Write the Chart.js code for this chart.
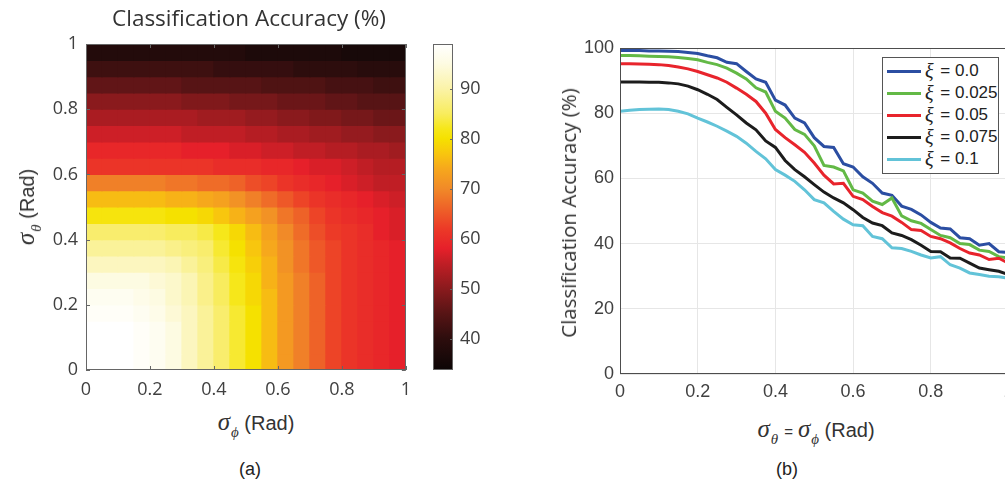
<!DOCTYPE html>
<html>
<head>
<meta charset="utf-8">
<script src="https://cdn.jsdelivr.net/npm/chart.js@4.4.0/dist/chart.umd.min.js"></script>
<style>
  body { margin: 0; background: #fff; width: 1005px; height: 484px; overflow: hidden; position: relative;
         font-family: "Liberation Sans", Arial, sans-serif; color: #333; }
  canvas { position: absolute; top: 0; }
  .lbl { position: absolute; white-space: nowrap; transform: translate(-50%, -50%); }
  .sig { font-family: "Liberation Serif", serif; font-style: italic; font-size: 25px; }
  .sub { font-family: "Liberation Serif", serif; font-style: italic; font-size: 15px; position: relative; top: 7px; margin-left: 1px; }
  #legend { position: absolute; left: 882px; top: 57px; width: 115px; height: 115px; border: 1px solid #555; background: #fff; }
  .row { position: absolute; left: 0; height: 22px; display: flex; align-items: center; font-size: 17px; color: #222; }
  .swatch { display: inline-block; width: 34px; height: 3px; margin: 0 4px 0 4px; }
  .xi { font-family: "Liberation Serif", serif; font-style: italic; font-size: 20px; margin-right: 2px; }
</style>
</head>
<body>
<canvas id="heat" width="420" height="400" style="left:0px"></canvas>
<canvas id="cbar" width="73" height="400" style="left:425px"></canvas>
<canvas id="lines" width="520" height="400" style="left:540px"></canvas>

<div class="lbl" style="left:249px;top:17px;font-family:'Open Sans';font-size:22.5px;color:#333">Classification Accuracy (%)</div>
<div class="lbl" style="left:26px;top:207px;font-size:20px;transform:translate(-50%,-50%) rotate(-90deg)"><span class="sig">σ</span><span class="sub">θ</span>&nbsp;(Rad)</div>
<div class="lbl" style="left:256px;top:422px;font-size:20px"><span class="sig">σ</span><span class="sub">ϕ</span>&nbsp;(Rad)</div>
<div class="lbl" style="left:250px;top:469px;font-size:18px;color:#222">(a)</div>

<div class="lbl" style="left:568px;top:213px;font-family:'Open Sans';font-size:20.5px;transform:translate(-50%,-50%) rotate(-90deg)">Classification Accuracy (%)</div>
<div class="lbl" style="left:816px;top:429px;font-size:20px"><span class="sig">σ</span><span class="sub">θ</span><span style="font-size:15px;margin:0 5px 0 6px">=</span><span class="sig">σ</span><span class="sub">ϕ</span>&nbsp;(Rad)</div>
<div class="lbl" style="left:787px;top:469px;font-size:18px;color:#222">(b)</div>

<div id="legend"></div>

<script>
// ---- heatmap (a): accuracy in %, rows go from sigma_theta = 0 (bottom) to 1 (top), columns sigma_phi 0 -> 1
const heatEdges = [0, 0.05, 0.1, 0.15, 0.2, 0.25, 0.3, 0.35, 0.4, 0.45, 0.5,
                   0.55, 0.6, 0.65, 0.7, 0.75, 0.8, 0.85, 0.9, 0.95, 1];
const heatRows = [
  [99,99,99,98,97,95,92,89,86,83,80,76,72,69,66,63,61,60,59,58],
  [99,99,99,98,97,95,92,89,86,83,80,76,72,69,66,63,61,60,59,58],
  [99,99,99,98,97,95,92,89,86,83,80,76,72,69,66,63,61,60,59,58],
  [98,98,98,97,96,94,92,89,86,83,80,76,72,69,66,63,61,60,59,58],
  [97,97,97,96,95,93,91,88,85,82,79,76,72,69,66,63,61,60,59,58],
  [95,95,95,95,94,93,91,88,85,82,79,75,72,69,66,63,61,60,59,58],
  [92,92,92,92,92,91,89,87,84,81,78,75,71,68,65,63,61,60,59,58],
  [89,89,89,89,89,88,87,86,83,80,77,74,71,68,65,63,61,60,59,58],
  [86,86,86,86,86,85,85,84,82,79,76,73,70,67,64,62,61,60,58,57],
  [81,81,81,81,81,80,80,79,77,75,73,71,68,66,63,61,60,59,58,57],
  [76,76,76,76,76,75,75,74,73,71,69,67,65,63,61,60,59,58,57,56],
  [69,69,69,69,69,68,68,67,67,66,64,63,61,60,59,58,57,56,55,55],
  [61,61,61,61,61,61,61,61,60,60,60,59,59,58,57,57,56,55,54,54],
  [59,59,59,59,59,59,58,58,58,57,57,56,56,55,55,54,54,53,53,52],
  [56,56,56,56,56,56,55,55,55,55,54,54,53,53,52,52,51,51,50,50],
  [53,53,53,53,53,53,53,52,52,52,51,51,50,50,49,49,48,48,47,47],
  [50,50,50,50,50,50,49,49,49,48,48,48,47,47,47,46,46,45,45,45],
  [46,46,46,46,46,46,45,45,45,45,45,44,44,44,44,43,43,43,42,42],
  [42,42,42,42,42,42,42,42,41,41,41,41,41,40,40,40,40,39,39,39],
  [38,38,38,38,38,38,38,38,38,38,37,37,37,37,37,37,36,36,36,36]
];
const axisTicks = [0, 0.2, 0.4, 0.6, 0.8, 1];

// colour map (value -> colour)
const colorStops = [33.7, 40, 45, 50, 55, 58, 62, 66, 70, 74, 77, 80, 82, 85, 90, 95, 98.9];
const colorHex = ['#0c0606', '#2d0d0d', '#571415', '#8a1a1d', '#c01e25', '#e6202a', '#ec3a27', '#ee6228',
                  '#f18a28', '#f6a81c', '#f8c60e', '#f5e100', '#f6e71a', '#f8ec5e', '#fbf3a8', '#fdfbe2', '#ffffff'];
const colorbarTicks = [40, 50, 60, 70, 80, 90];

// ---- line plot (b)
const sigmaGrid = [0, 0.025, 0.05, 0.075, 0.1, 0.125, 0.15, 0.175, 0.2, 0.225, 0.25, 0.275, 0.3, 0.325,
                   0.35, 0.375, 0.4, 0.425, 0.45, 0.475, 0.5, 0.525, 0.55, 0.575, 0.6, 0.625, 0.65, 0.675,
                   0.7, 0.725, 0.75, 0.775, 0.8, 0.825, 0.85, 0.875, 0.9, 0.925, 0.95, 0.975, 1];
const accXi0 = [99.2, 99.2, 99.2, 99.1, 99.1, 99, 98.9, 98.6, 98.3, 97.6, 97, 95.6, 95.2, 92.8, 90.5, 89.5,
                84, 82.5, 78.5, 77, 72.5, 69.8, 69.5, 64.5, 63.5, 60.5, 58.5, 55.5, 54.8, 51.5, 50.5, 48.8,
                46.5, 44.8, 44.5, 41.8, 41.5, 39.5, 40, 37.5, 37.3];
const accXi025 = [97.7, 97.7, 97.6, 97.5, 97.4, 97.3, 97.1, 96.8, 96.4, 95.6, 94.9, 93.8, 92.3, 90.5, 87.8,
                  86.5, 80.6, 78.5, 75, 73.5, 70, 64, 63.5, 62.3, 56.5, 55.5, 53, 52, 54, 48.5, 47, 46.2,
                  44.3, 42.5, 41.8, 40, 39.7, 38, 37.6, 36, 35.6];
const accXi05 = [95.2, 95.2, 95.1, 95, 94.9, 94.6, 94.2, 93.6, 92.8, 91.8, 90.8, 89.5, 87.7, 85.8, 83.6, 80,
                 75, 72.5, 70.3, 68, 64.7, 61, 58.3, 58.5, 54.5, 53.5, 51.4, 49.5, 48.4, 46.5, 44.3, 44,
                 42.2, 41.5, 40.2, 38.5, 37.1, 36.5, 35.1, 35.5, 34];
const accXi075 = [89.6, 89.6, 89.6, 89.5, 89.5, 89.3, 89, 88.3, 87.2, 85.8, 84.2, 81.8, 79.5, 77, 74.9, 71.5,
                  69.5, 65.5, 62.7, 60.5, 58.1, 55.8, 54, 52.5, 50.4, 48, 46.3, 45.5, 43.3, 42.5, 41.2,
                  39.5, 37.6, 37.5, 35.6, 35.5, 34, 32.5, 32, 31.5, 30.5];
const accXi1 = [80.6, 80.9, 81.1, 81.2, 81.3, 81.1, 80.6, 79.8, 78.5, 77.3, 76, 74.5, 72.9, 70.8, 68.3, 66,
                62.7, 61, 59.1, 56.5, 53.5, 52.5, 49.9, 47.5, 45.8, 45.5, 42.2, 41.5, 38.7, 38.5, 37.6, 36.5,
                35.6, 36, 33.5, 32.5, 31, 30.5, 30, 29.8, 29.4];
const seriesNames = ['0.0', '0.025', '0.05', '0.075', '0.1'];
const seriesColors = ['#2b4ea2', '#63b946', '#e8242c', '#1c1c1c', '#62c3d8'];
const seriesValues = [accXi0, accXi025, accXi05, accXi075, accXi1];
const accTicks = [0, 20, 40, 60, 80, 100];

// helpers
function hexToRgb(h) {
  return [parseInt(h.slice(1, 3), 16), parseInt(h.slice(3, 5), 16), parseInt(h.slice(5, 7), 16)];
}
function valueColor(v) {
  if (v <= colorStops[0]) return colorHex[0];
  for (let i = 1; i < colorStops.length; i++) {
    if (v <= colorStops[i]) {
      const f = (v - colorStops[i - 1]) / (colorStops[i] - colorStops[i - 1]);
      const a = hexToRgb(colorHex[i - 1]), b = hexToRgb(colorHex[i]);
      const c = a.map((x, k) => Math.round(x + (b[k] - x) * f));
      return 'rgb(' + c.join(',') + ')';
    }
  }
  return colorHex[colorHex.length - 1];
}

// frame + inward tick marks, matlab style
const frameLines = {
  id: 'frameLines',
  afterDatasetsDraw(chart, args, opts) {
    const { ctx, chartArea: a, scales } = chart;
    ctx.save();
    ctx.strokeStyle = opts.color || '#555';
    ctx.lineWidth = 1;
    ctx.strokeRect(Math.round(a.left) + 0.5, Math.round(a.top) + 0.5,
                   Math.round(a.right - a.left) - 1, Math.round(a.bottom - a.top) - 1);
    const len = opts.tickLength || 0;
    if (len) {
      ctx.beginPath();
      (opts.xTicks || []).forEach(v => {
        const px = Math.round(scales.x.getPixelForValue(v)) + 0.5;
        ctx.moveTo(px, a.bottom); ctx.lineTo(px, a.bottom - len);
        ctx.moveTo(px, a.top); ctx.lineTo(px, a.top + len);
      });
      (opts.yTicks || []).forEach(v => {
        const py = Math.round(scales.y.getPixelForValue(v)) + 0.5;
        if (opts.leftTicks !== false) { ctx.moveTo(a.left, py); ctx.lineTo(a.left + len, py); }
        ctx.moveTo(a.right, py); ctx.lineTo(a.right - len, py);
      });
      ctx.stroke();
    }
    ctx.restore();
  }
};

Chart.defaults.font.family = "'Open Sans'";
Chart.defaults.color = '#404040';

// ---- (a) heatmap as floating bars
const heatCells = [];
const heatColors = [];
heatRows.forEach((row, r) => {
  row.forEach((v, c) => {
    heatCells.push({ x: (heatEdges[c] + heatEdges[c + 1]) / 2, y: [heatEdges[r], heatEdges[r + 1]] });
    heatColors.push(valueColor(v));
  });
});

new Chart(document.getElementById('heat'), {
  type: 'bar',
  data: {
    datasets: [{
      data: heatCells,
      backgroundColor: heatColors,
      borderWidth: 0,
      inflateAmount: 0.6,
      barPercentage: 1,
      categoryPercentage: 1
    }]
  },
  options: {
    responsive: false,
    animation: false,
    layout: { padding: { top: 44, right: 8, left: 0, bottom: 0 } },
    plugins: {
      legend: { display: false },
      tooltip: { enabled: false },
      frameLines: { color: '#666', tickLength: 4, xTicks: axisTicks, yTicks: axisTicks }
    },
    scales: {
      x: {
        type: 'linear', min: 0, max: 1, offset: false,
        grid: { display: false, drawTicks: false }, border: { display: false },
        afterBuildTicks: s => { s.ticks = axisTicks.map(v => ({ value: v })); },
        afterFit: s => { s.height = 30; },
        ticks: { padding: 9, font: { size: 18 }, maxRotation: 0, autoSkip: false, callback: v => String(v) }
      },
      y: {
        type: 'linear', min: 0, max: 1,
        grid: { display: false, drawTicks: false }, border: { display: false },
        afterBuildTicks: s => { s.ticks = axisTicks.map(v => ({ value: v })); },
        afterFit: s => { s.width = 86; },
        ticks: { padding: 8, font: { size: 18 }, autoSkip: false, callback: v => String(v) }
      }
    }
  },
  plugins: [frameLines]
});

// ---- colour bar
new Chart(document.getElementById('cbar'), {
  type: 'bar',
  data: {
    labels: [''],
    datasets: [{
      data: [[colorStops[0], colorStops[colorStops.length - 1]]],
      backgroundColor: ctx => {
        const chart = ctx.chart;
        if (!chart.chartArea) return '#000';
        const ys = chart.scales.y;
        const y0 = ys.getPixelForValue(colorStops[0]);
        const y1 = ys.getPixelForValue(colorStops[colorStops.length - 1]);
        const g = chart.ctx.createLinearGradient(0, y0, 0, y1);
        const lo = colorStops[0], hi = colorStops[colorStops.length - 1];
        colorStops.forEach((v, i) => g.addColorStop((v - lo) / (hi - lo), colorHex[i]));
        return g;
      },
      borderWidth: 0,
      barPercentage: 1,
      categoryPercentage: 1
    }]
  },
  options: {
    responsive: false,
    animation: false,
    layout: { padding: { top: 44, left: 8, right: 0, bottom: 30 } },
    plugins: {
      legend: { display: false },
      tooltip: { enabled: false },
      frameLines: { color: '#666', tickLength: 3, yTicks: colorbarTicks, leftTicks: false }
    },
    scales: {
      x: { display: false },
      y: {
        position: 'right', min: colorStops[0], max: colorStops[colorStops.length - 1],
        grid: { display: false, drawTicks: false }, border: { display: false },
        afterBuildTicks: s => { s.ticks = colorbarTicks.map(v => ({ value: v })); },
        afterFit: s => { s.width = 45; },
        ticks: { padding: 7, font: { size: 18 } }
      }
    }
  },
  plugins: [frameLines]
});

// ---- (b) accuracy vs sigma
new Chart(document.getElementById('lines'), {
  type: 'line',
  data: {
    datasets: seriesValues.map((vals, i) => ({
      label: seriesNames[i],
      data: sigmaGrid.map((s, k) => ({ x: s, y: vals[k] })),
      borderColor: seriesColors[i],
      borderWidth: 3,
      pointRadius: 0,
      tension: 0,
      order: seriesValues.length - i
    }))
  },
  options: {
    responsive: false,
    animation: false,
    layout: { padding: { top: 48, right: 51.5, left: 0, bottom: 0 } },
    plugins: {
      legend: { display: false },
      tooltip: { enabled: false },
      frameLines: { color: '#4d4d4d' }
    },
    scales: {
      x: {
        type: 'linear', min: 0, max: 1,
        grid: { color: '#e6e6e6', drawTicks: false }, border: { display: false },
        afterBuildTicks: s => { s.ticks = axisTicks.map(v => ({ value: v })); },
        afterFit: s => { s.height = 26; },
        ticks: { padding: 7, font: { family: "'Liberation Sans'", size: 18 }, maxRotation: 0, autoSkip: false,
                 callback: v => String(v) }
      },
      y: {
        min: 0, max: 100,
        grid: { color: '#e6e6e6', drawTicks: false }, border: { display: false },
        afterBuildTicks: s => { s.ticks = accTicks.map(v => ({ value: v })); },
        afterFit: s => { s.width = 80; },
        ticks: { padding: 6, font: { family: "'Liberation Sans'", size: 18 } }
      }
    }
  },
  plugins: [frameLines]
});

// legend box for (b)
const legendBox = document.getElementById('legend');
seriesNames.forEach((name, i) => {
  const row = document.createElement('div');
  row.className = 'row';
  row.style.top = (2 + i * 22) + 'px';
  row.innerHTML = '<span class="swatch" style="background:' + seriesColors[i] + '"></span>' +
                  '<span class="xi">ξ</span>&nbsp;= ' + name;
  legendBox.appendChild(row);
});
</script>
</body>
</html>
